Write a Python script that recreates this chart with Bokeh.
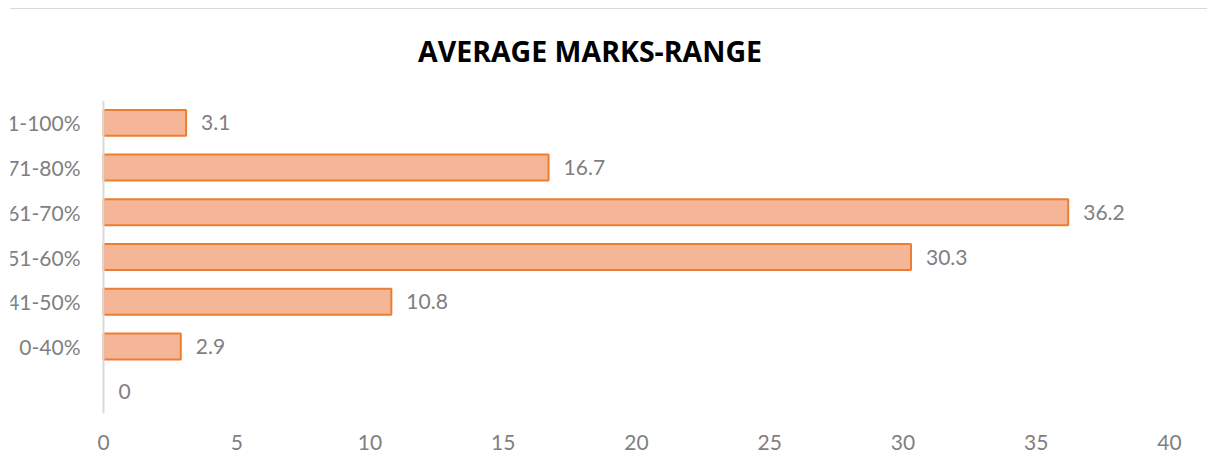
from bokeh.plotting import figure
from bokeh.models import ColumnDataSource, FixedTicker, Span, Title
from bokeh.core.properties import value
from bokeh.embed import file_html
from bokeh.resources import INLINE

categories = [" ", "0-40%", "41-50%", "51-60%", "61-70%", "71-80%", "81-100%"]
values = [0, 2.9, 10.8, 30.3, 36.2, 16.7, 3.1]
value_labels = ["0", "2.9", "10.8", "30.3", "36.2", "16.7", "3.1"]
x_ticks = [0, 5, 10, 15, 20, 25, 30, 35, 40]

ORANGE = "#ed7d31"
FILL = "#f5b597"
GRAY_TXT = "#7f7f7f"
FONT = "Lato"

src = ColumnDataSource(dict(
    cat=categories,
    val=values,
    lab=value_labels,
    zero=[0] * len(categories),
    lc=[ORANGE if v > 0 else None for v in values],
))

p = figure(width=1197, height=462, y_range=categories, x_range=(-3.49, 40),
           output_backend="svg", toolbar_location=None,
           min_border_left=0, min_border_right=38, min_border_top=91, min_border_bottom=58)
p.styles = {"margin-left": "10px", "margin-top": "8px", "border-top": "1px solid #d9d9d9"}

p.title.text = "AVERAGE MARKS-RANGE"
p.title.align = "center"
p.title.text_font = "Open Sans"
p.title.text_font_style = "bold"
p.title.text_font_size = "28.5px"
p.title.text_color = "#000000"
p.title.standoff = 38
p.title.offset = 10

# empty spacer panel between the title and the plot frame
p.add_layout(Title(text=" ", text_font_size="1px", standoff=9), "above")

p.hbar(y="cat", left=0, right="val", height=0.58, source=src,
       fill_color=FILL, line_color="lc", line_width=2)

p.add_layout(Span(location=0, dimension="height", line_color="#d9d9d9", line_width=2))

p.text(x="val", y="cat", text="lab", source=src, x_offset=15,
       text_align="left", text_baseline="middle",
       text_font=value(FONT), text_font_size="21px", text_color=GRAY_TXT)
p.text(x="zero", y="cat", text="cat", source=src, x_offset=-23,
       text_align="right", text_baseline="middle",
       text_font=value(FONT), text_font_size="21px", text_color=GRAY_TXT)

p.yaxis.visible = False
p.xaxis.ticker = FixedTicker(ticks=x_ticks)
p.xaxis.axis_line_color = None
p.xaxis.major_tick_line_color = None
p.xaxis.minor_tick_line_color = None
p.xaxis.major_label_text_font = FONT
p.xaxis.major_label_text_font_size = "21px"
p.xaxis.major_label_text_color = GRAY_TXT
p.xaxis.major_label_standoff = 15
p.xgrid.visible = False
p.ygrid.visible = False
p.outline_line_color = None

open("out.html", "w").write(file_html(p, INLINE))
